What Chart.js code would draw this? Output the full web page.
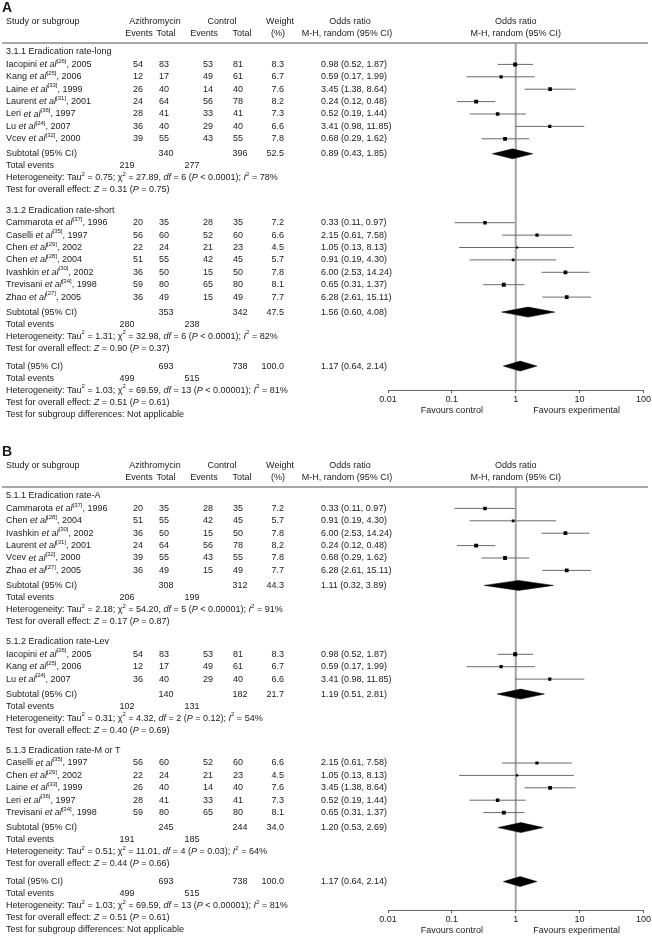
<!DOCTYPE html>
<html lang="en">
<head>
<meta charset="UTF-8">
<title>Azithromycin forest plot</title>
<script src="https://cdn.jsdelivr.net/npm/chart.js@4"></script>
<style>
  body { margin: 0; background: #fff; }
  canvas { display: block; }
</style>
</head>
<body>
<canvas id="panelA" width="652" height="444"></canvas>
<canvas id="panelB" width="652" height="501"></canvas>
<script>
// trials (same rows are regrouped in panel B)
const studyNames = ['Iacopini', 'Kang', 'Laine', 'Laurent', 'Leri', 'Lu', 'Vcev',
  'Cammarota', 'Caselli', 'Chen', 'Chen', 'Ivashkin', 'Trevisani', 'Zhao'];
const studyRefs = [26, 25, 33, 31, 36, 24, 32, 37, 35, 29, 28, 30, 34, 27];
const studyYears = [2005, 2006, 1999, 2001, 1997, 2007, 2000, 1996, 1997, 2002, 2004, 2002, 1998, 2005];
const azEvents = [54, 12, 26, 24, 28, 36, 39, 20, 56, 22, 51, 36, 59, 36];
const azTotal = [83, 17, 40, 64, 41, 40, 55, 35, 60, 24, 55, 50, 80, 49];
const ctlEvents = [53, 49, 14, 56, 33, 29, 43, 28, 52, 21, 42, 15, 65, 15];
const ctlTotal = [81, 61, 40, 78, 41, 40, 55, 35, 60, 23, 45, 50, 80, 49];
const weights = [8.3, 6.7, 7.6, 8.2, 7.3, 6.6, 7.8, 7.2, 6.6, 4.5, 5.7, 7.8, 8.1, 7.7];
const oddsRatio = [0.98, 0.59, 3.45, 0.24, 0.52, 3.41, 0.68, 0.33, 2.15, 1.05, 0.91, 6.00, 0.65, 6.28];
const ciLow = [0.52, 0.17, 1.38, 0.12, 0.19, 0.98, 0.29, 0.11, 0.61, 0.13, 0.19, 2.53, 0.31, 2.61];
const ciHigh = [1.87, 1.99, 8.64, 0.48, 1.44, 11.85, 1.62, 0.97, 7.58, 8.13, 4.30, 14.24, 1.37, 15.11];

// panel A subgroups
const groupTitlesA = ['3.1.1 Eradication rate-long', '3.1.2 Eradication rate-short'];
const groupMembersA = [[0, 1, 2, 3, 4, 5, 6], [7, 8, 9, 10, 11, 12, 13]];
const subAzTotalA = [340, 353];
const subCtlTotalA = [396, 342];
const subWeightA = [52.5, 47.5];
const subOrA = [0.89, 1.56];
const subLowA = [0.43, 0.60];
const subHighA = [1.85, 4.08];
const subAzEventsA = [219, 280];
const subCtlEventsA = [277, 238];
const subTau2A = [0.75, 1.31];
const subChi2A = [27.89, 32.98];
const subDfA = [6, 6];
const subPhetA = ['< 0.0001', '< 0.0001'];
const subI2A = [78, 82];
const subZA = [0.31, 0.90];
const subPA = [0.75, 0.37];

// panel B subgroups
const groupTitlesB = ['5.1.1 Eradication rate-A', '5.1.2 Eradication rate-Lev', '5.1.3 Eradication rate-M or T'];
const groupMembersB = [[7, 10, 11, 3, 6, 13], [0, 1, 5], [8, 9, 2, 4, 12]];
const subAzTotalB = [308, 140, 245];
const subCtlTotalB = [312, 182, 244];
const subWeightB = [44.3, 21.7, 34.0];
const subOrB = [1.11, 1.19, 1.20];
const subLowB = [0.32, 0.51, 0.53];
const subHighB = [3.89, 2.81, 2.69];
const subAzEventsB = [206, 102, 191];
const subCtlEventsB = [199, 131, 185];
const subTau2B = [2.18, 0.31, 0.51];
const subChi2B = [54.20, 4.32, 11.01];
const subDfB = [5, 2, 4];
const subPhetB = ['< 0.00001', '= 0.12', '= 0.03'];
const subI2B = [91, 54, 64];
const subZB = [0.17, 0.40, 0.44];
const subPB = [0.87, 0.69, 0.66];

// overall (identical in both panels)
const overallTotals = [693, 738];
const overallEvents = [499, 515];
const overallWeight = 100.0;
const overallOr = [1.17, 0.64, 2.14];
const overallTau2 = 1.03;
const overallChi2 = 69.59;
const overallDf = 13;
const overallPhet = '< 0.00001';
const overallI2 = 81;
const overallZ = 0.51;
const overallP = 0.61;

const axisTicks = [0.01, 0.1, 1, 10, 100];
const axisLabels = ['0.01', '0.1', '1', '10', '100'];

// layout
const FONT = "'Liberation Sans', Arial, sans-serif";
const FS = 9;
const TEXT = '#1a1a1a';
const TOP = 43;
const STEP = 12.4, SMALL = 12, SUB_GAP = 15, GROUP_GAP = 20.5, TOTAL_GAP = 18;
const COL = { name: 6, azEv: 138, azTot: 164, ctlEv: 208, ctlTot: 238, wR: 284, orL: 321,
  evAz: 127, evCtl: 192, subAz: 166, subCtl: 240 };

function fmtCi(o, l, h) { return o.toFixed(2) + ' (' + l.toFixed(2) + ', ' + h.toFixed(2) + ')'; }

function drawRich(ctx, segs, x, y, align) {
  const fontOf = s => (s.it ? 'italic ' : '') + (s.sup ? 6 : FS) + 'px ' + FONT;
  const ws = segs.map(s => { ctx.font = fontOf(s); return ctx.measureText(s.t).width; });
  const total = ws.reduce((a, b) => a + b, 0);
  let cx = align === 'center' ? x - total / 2 : align === 'right' ? x - total : x;
  ctx.textAlign = 'left';
  ctx.textBaseline = 'middle';
  segs.forEach((s, i) => {
    ctx.font = fontOf(s);
    ctx.fillText(s.t, cx, s.sup ? y - 3.5 : y);
    cx += ws[i];
  });
}
function txt(ctx, t, x, y, align) { drawRich(ctx, [{ t: t }], x, y, align); }

function hetSegs(tau2, chi2, df, ph, i2) {
  return [{ t: 'Heterogeneity: Tau' }, { t: '2', sup: 1 }, { t: ' = ' + tau2.toFixed(2) + '; \u03c7' },
    { t: '2', sup: 1 }, { t: ' = ' + chi2.toFixed(2) + ', ' }, { t: 'df', it: 1 }, { t: ' = ' + df + ' (' },
    { t: 'P', it: 1 }, { t: ' ' + ph + '); ' }, { t: 'I', it: 1 }, { t: '2', sup: 1 }, { t: ' = ' + i2 + '%' }];
}
function testSegs(z, p) {
  return [{ t: 'Test for overall effect: ' }, { t: 'Z', it: 1 }, { t: ' = ' + z.toFixed(2) + ' (' },
    { t: 'P', it: 1 }, { t: ' = ' + p.toFixed(2) + ')' }];
}

function buildPanel(id, letter, axisY, g) {
  const canvas = document.getElementById(id);
  const rows = [];
  let y = TOP + 9;
  g.titles.forEach((title, k) => {
    rows.push({ kind: 'group', y: y, title: title });
    y += STEP;
    g.members[k].forEach(i => { rows.push({ kind: 'study', y: y, i: i }); y += STEP; });
    y += SUB_GAP - STEP;
    rows.push({ kind: 'sub', y: y, label: 'Subtotal (95% CI)', az: g.azTot[k], ctl: g.ctlTot[k],
      w: g.weight[k], or: g.or[k], lo: g.lo[k], hi: g.hi[k] });
    y += SMALL; rows.push({ kind: 'events', y: y, az: g.azEv[k], ctl: g.ctlEv[k] });
    y += SMALL; rows.push({ kind: 'rich', y: y, segs: hetSegs(g.tau2[k], g.chi2[k], g.df[k], g.phet[k], g.i2[k]) });
    y += SMALL; rows.push({ kind: 'rich', y: y, segs: testSegs(g.z[k], g.p[k]) });
    y += GROUP_GAP;
  });
  y += TOTAL_GAP - GROUP_GAP;
  rows.push({ kind: 'sub', y: y, label: 'Total (95% CI)', az: overallTotals[0], ctl: overallTotals[1],
    w: overallWeight, or: overallOr[0], lo: overallOr[1], hi: overallOr[2] });
  y += SMALL; rows.push({ kind: 'events', y: y, az: overallEvents[0], ctl: overallEvents[1] });
  y += SMALL; rows.push({ kind: 'rich', y: y, segs: hetSegs(overallTau2, overallChi2, overallDf, overallPhet, overallI2) });
  y += SMALL; rows.push({ kind: 'rich', y: y, segs: testSegs(overallZ, overallP) });
  y += SMALL; rows.push({ kind: 'rich', y: y, segs: [{ t: 'Test for subgroup differences: Not applicable' }] });

  const studyRows = rows.filter(r => r.kind === 'study');
  const ciData = [];
  studyRows.forEach(r => {
    ciData.push({ x: ciLow[r.i], y: r.y }, { x: ciHigh[r.i], y: r.y }, { x: ciHigh[r.i], y: null });
  });
  const datasets = [
    { type: 'line', data: [{ x: 1, y: TOP }, { x: 1, y: axisY }], borderColor: '#a3a3a3', borderWidth: 2,
      pointRadius: 0, order: 5 },
    { type: 'line', data: ciData, borderColor: '#6a6a6a', borderWidth: 1, pointRadius: 0, spanGaps: false, order: 4 },
    { type: 'scatter', data: studyRows.map(r => ({ x: oddsRatio[r.i], y: r.y })), pointStyle: 'rect',
      pointRadius: studyRows.map(r => weights[r.i] * 0.34), backgroundColor: '#000', borderWidth: 0, order: 1 }
  ];
  rows.filter(r => r.kind === 'sub').forEach(r => {
    datasets.push({ type: 'line', data: [{ x: r.lo, y: r.y }, { x: r.or, y: r.y - 5 }, { x: r.hi, y: r.y },
      { x: r.or, y: r.y + 5 }, { x: r.lo, y: r.y }], borderColor: '#000', borderWidth: 0.5,
      backgroundColor: '#000', fill: 'shape', pointRadius: 0, tension: 0, order: 2 });
  });

  const textPlugin = {
    id: 'forestText',
    afterDraw(chart) {
      const ctx = chart.ctx;
      const ys = chart.scales.y;
      const xs = chart.scales.x;
      ctx.save();
      ctx.fillStyle = TEXT;
      // panel letter
      ctx.font = 'bold 14px ' + FONT;
      ctx.textBaseline = 'middle';
      ctx.textAlign = 'left';
      ctx.fillText(letter, 2, 8);
      // header
      txt(ctx, 'Study or subgroup', COL.name, 22, 'left');
      txt(ctx, 'Azithromycin', 155, 22, 'center');
      txt(ctx, 'Control', 222, 22, 'center');
      txt(ctx, 'Weight', 280, 22, 'center');
      txt(ctx, 'Odds ratio', 350, 22, 'center');
      txt(ctx, 'Events', 139, 33.5, 'center');
      txt(ctx, 'Total', 166, 33.5, 'center');
      txt(ctx, 'Events', 204, 33.5, 'center');
      txt(ctx, 'Total', 242, 33.5, 'center');
      txt(ctx, '(%)', 278, 33.5, 'center');
      txt(ctx, 'M-H, random (95% CI)', 347, 33.5, 'center');
      const mid = xs.getPixelForValue(1);
      txt(ctx, 'Odds ratio', mid, 22, 'center');
      txt(ctx, 'M-H, random (95% CI)', mid, 33.5, 'center');
      ctx.strokeStyle = '#8a8a8a';
      ctx.lineWidth = 1.5;
      ctx.beginPath();
      ctx.moveTo(2, ys.getPixelForValue(TOP));
      ctx.lineTo(648, ys.getPixelForValue(TOP));
      ctx.stroke();
      // rows
      rows.forEach(r => {
        const py = ys.getPixelForValue(r.y);
        if (r.kind === 'group') txt(ctx, r.title, COL.name, py, 'left');
        else if (r.kind === 'study') {
          const i = r.i;
          drawRich(ctx, [{ t: studyNames[i] + ' ' }, { t: 'et al', it: 1 }, { t: '[' + studyRefs[i] + ']', sup: 1 },
            { t: ', ' + studyYears[i] }], COL.name, py, 'left');
          txt(ctx, String(azEvents[i]), COL.azEv, py, 'center');
          txt(ctx, String(azTotal[i]), COL.azTot, py, 'center');
          txt(ctx, String(ctlEvents[i]), COL.ctlEv, py, 'center');
          txt(ctx, String(ctlTotal[i]), COL.ctlTot, py, 'center');
          txt(ctx, weights[i].toFixed(1), COL.wR, py, 'right');
          txt(ctx, fmtCi(oddsRatio[i], ciLow[i], ciHigh[i]), COL.orL, py, 'left');
        } else if (r.kind === 'sub') {
          txt(ctx, r.label, COL.name, py, 'left');
          txt(ctx, String(r.az), COL.subAz, py, 'center');
          txt(ctx, String(r.ctl), COL.subCtl, py, 'center');
          txt(ctx, r.w.toFixed(1), COL.wR, py, 'right');
          txt(ctx, fmtCi(r.or, r.lo, r.hi), COL.orL, py, 'left');
        } else if (r.kind === 'events') {
          txt(ctx, 'Total events', COL.name, py, 'left');
          txt(ctx, String(r.az), COL.evAz, py, 'center');
          txt(ctx, String(r.ctl), COL.evCtl, py, 'center');
        } else {
          drawRich(ctx, r.segs, COL.name, py, 'left');
        }
      });
      // favours labels
      const ay = ys.getPixelForValue(axisY) + 21;
      txt(ctx, 'Favours control', (xs.getPixelForValue(0.01) + mid) / 2, ay, 'center');
      txt(ctx, 'Favours experimental', (xs.getPixelForValue(100) + mid) / 2 - 3, ay, 'center');
      ctx.restore();
    }
  };

  const axisH = canvas.height - axisY;
  return new Chart(canvas, {
    type: 'scatter',
    data: { datasets: datasets },
    options: {
      responsive: false,
      animation: false,
      layout: { padding: { left: 388, right: 8, top: TOP, bottom: 0 } },
      plugins: { legend: { display: false }, tooltip: { enabled: false } },
      scales: {
        x: {
          type: 'logarithmic', min: 0.01, max: 100,
          afterBuildTicks: s => { s.ticks = axisTicks.map(v => ({ value: v })); },
          afterFit: s => { s.height = axisH; },
          ticks: { callback: (v) => axisLabels[axisTicks.indexOf(v)], font: { family: FONT, size: FS },
            color: TEXT, padding: 1, maxRotation: 0, autoSkip: false },
          grid: { drawOnChartArea: false, tickLength: 3, color: '#666' },
          border: { color: '#666', width: 1 }
        },
        y: { type: 'linear', min: TOP, max: axisY, reverse: true, display: false }
      }
    },
    plugins: [textPlugin]
  });
}

buildPanel('panelA', 'A', 390, {
  titles: groupTitlesA, members: groupMembersA, azTot: subAzTotalA, ctlTot: subCtlTotalA, weight: subWeightA,
  or: subOrA, lo: subLowA, hi: subHighA, azEv: subAzEventsA, ctlEv: subCtlEventsA, tau2: subTau2A,
  chi2: subChi2A, df: subDfA, phet: subPhetA, i2: subI2A, z: subZA, p: subPA
});
buildPanel('panelB', 'B', 466, {
  titles: groupTitlesB, members: groupMembersB, azTot: subAzTotalB, ctlTot: subCtlTotalB, weight: subWeightB,
  or: subOrB, lo: subLowB, hi: subHighB, azEv: subAzEventsB, ctlEv: subCtlEventsB, tau2: subTau2B,
  chi2: subChi2B, df: subDfB, phet: subPhetB, i2: subI2B, z: subZB, p: subPB
});
</script>
</body>
</html>
